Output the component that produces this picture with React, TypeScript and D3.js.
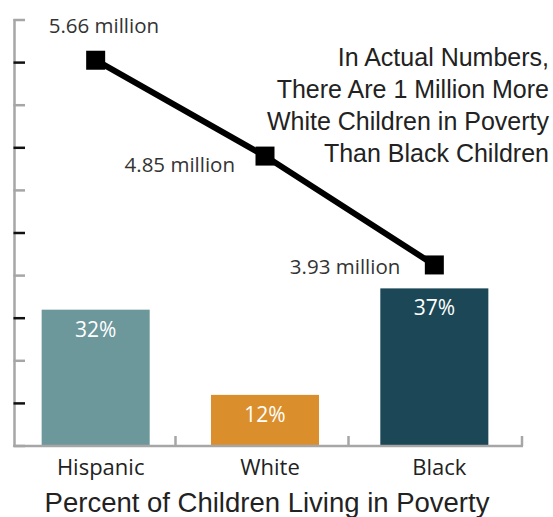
import React from "react";
import * as d3 from "d3";

const categories = ["Hispanic", "White", "Black"];
const percentValues = [32, 12, 37];
const millionValues = [5.66, 4.85, 3.93];
const millionLabels = ["5.66 million", "4.85 million", "3.93 million"];
const barColors = ["#6c979b", "#db8f2c", "#1b4756"];
const yTicks = d3.range(0, 101, 10);
const annotationLines = [
  "In Actual Numbers,",
  "There Are 1 Million More",
  "White Children in Poverty",
  "Than Black Children",
];
const xTitle = "Percent of Children Living in Poverty";

const W = 553;
const H = 517;
const left = 14.5;
const right = 522;
const top = 20;
const bottom = 446;

export default function App() {
  const x = d3.scaleBand<string>().domain(categories).range([11, 519]).paddingInner(0.362).paddingOuter(0.181);
  const xTickScale = d3.scaleBand<string>().domain(categories).range([2.5, 521.5]);
  const y = d3.scaleLinear().domain([0, 100]).range([bottom, top]);
  const yLine = d3.scaleLinear().domain([2.4, 6.0]).range([bottom, top]);
  const cx = (c: string) => (x(c) as number) + x.bandwidth() / 2;
  const lineGen = d3
    .line<number>()
    .x((_, i) => cx(categories[i]))
    .y((d) => yLine(d));
  const gray = "#a6a6a6";
  const labelFont = "'Open Sans', sans-serif";
  const titleFont = "'Liberation Sans', Arial, sans-serif";
  const mk = 19;
  const labelOffsets = [
    { dx: -47, dy: -34, anchor: "start" },
    { dx: -30, dy: 9, anchor: "end" },
    { dx: -34, dy: 2, anchor: "end" },
  ];
  return (
    <div style={{ position: "fixed", left: 0, top: 0, width: W, height: H, background: "#fff" }}>
      <svg width={W} height={H} style={{ display: "block" }}>
        {/* bars */}
        {categories.map((c, i) => (
          <rect
            key={c}
            x={x(c)}
            y={y(percentValues[i])}
            width={x.bandwidth()}
            height={bottom - y(percentValues[i])}
            fill={barColors[i]}
          />
        ))}
        {categories.map((c, i) => (
          <text
            key={c + "p"}
            x={cx(c)}
            y={y(percentValues[i]) + 27}
            textAnchor="middle"
            fill="#fff"
            fontFamily={labelFont}
            fontSize={21}
          >
            {percentValues[i]}%
          </text>
        ))}
        {/* y axis */}
        <line x1={left} x2={left} y1={top - 1} y2={bottom + 1} stroke={gray} strokeWidth={2.5} />
        {yTicks.map((t, i) => (
          <line
            key={t}
            x1={left - 1}
            x2={25}
            y1={y(t)}
            y2={y(t)}
            stroke={i % 2 === 0 ? gray : "#111"}
            strokeWidth={2.5}
          />
        ))}
        {/* x axis */}
        <line x1={left - 1} x2={right + 1} y1={bottom} y2={bottom} stroke={gray} strokeWidth={2.5} />
        {categories.slice(1).map((c) => (
          <line key={c + "t"} x1={xTickScale(c)} x2={xTickScale(c)} y1={bottom} y2={bottom - 10} stroke={gray} strokeWidth={2.5} />
        ))}
        <line x1={right} x2={right} y1={bottom} y2={bottom - 10} stroke={gray} strokeWidth={2.5} />
        {categories.map((c) => (
          <text
            key={c + "l"}
            x={cx(c) + 5}
            y={bottom + 29}
            textAnchor="middle"
            fill="#222"
            fontFamily={labelFont}
            fontSize={22}
          >
            {c}
          </text>
        ))}
        <text x={267} y={512} textAnchor="middle" fill="#222" fontFamily={titleFont} fontSize={27.5}>
          {xTitle}
        </text>
        {/* line series */}
        <path d={lineGen(millionValues) || ""} fill="none" stroke="#000" strokeWidth={6} />
        {millionValues.map((v, i) => (
          <rect
            key={"m" + i}
            x={cx(categories[i]) - mk / 2}
            y={yLine(v) - mk / 2}
            width={mk}
            height={mk}
            fill="#000"
          />
        ))}
        {millionValues.map((v, i) => (
          <text
            key={"ml" + i}
            x={cx(categories[i]) + labelOffsets[i].dx}
            y={yLine(v) + labelOffsets[i].dy + 7}
            textAnchor={labelOffsets[i].anchor as any}
            fill="#333"
            fontFamily={labelFont}
            fontSize={20.5}
          >
            {millionLabels[i]}
          </text>
        ))}
        {/* annotation */}
        {annotationLines.map((l, i) => (
          <text
            key={l}
            x={549}
            y={66 + i * 32}
            textAnchor="end"
            fill="#222"
            fontFamily={titleFont}
            fontSize={25}
          >
            {l}
          </text>
        ))}
      </svg>
    </div>
  );
}
